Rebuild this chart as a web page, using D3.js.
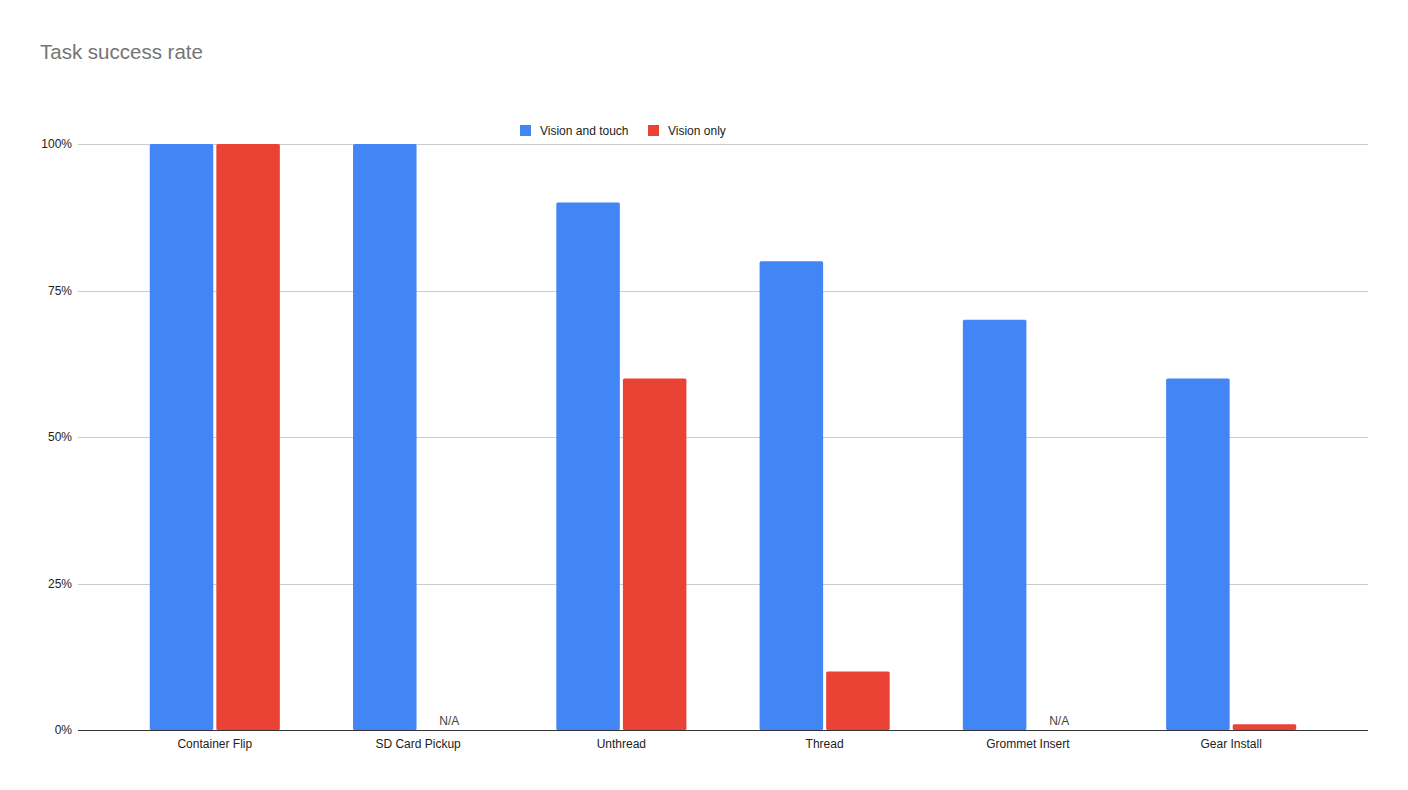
<!DOCTYPE html>
<html>
<head>
<meta charset="utf-8">
<script src="https://cdn.jsdelivr.net/npm/d3@7"></script>
<style>
  html, body { margin: 0; padding: 0; background: #fff; }
  svg { display: block; font-family: "Liberation Sans", Arial, sans-serif; }
</style>
</head>
<body>
<svg id="chart" width="1408" height="790"></svg>
<script>
const categories = ["Container Flip", "SD Card Pickup", "Unthread", "Thread", "Grommet Insert", "Gear Install"];
const seriesNames = ["Vision and touch", "Vision only"];
const visionAndTouch = [100, 100, 90, 80, 70, 60];
const visionOnly = [100, null, 60, 10, null, 1];
const yTicks = [0, 25, 50, 75, 100];
const colors = ["#4285F4", "#EA4335"];
const titleText = "Task success rate";

(function () {
const svg = d3.select("#chart");
const plotLeft = 78, plotRight = 1368, plotTop = 144, plotBottom = 730;

const x = d3.scaleBand().domain(categories).range([plotLeft, plotRight]).paddingInner(0.36).paddingOuter(0.353);
const xs = d3.scaleBand().domain(seriesNames).range([0, x.bandwidth()]).paddingInner(0.046);
const y = d3.scaleLinear().domain([0, 100]).range([plotBottom, plotTop]);

svg.append("rect").attr("width", 1408).attr("height", 790).attr("fill", "#fff");

svg.append("text").attr("x", 40).attr("y", 59).attr("font-size", 20.5).attr("fill", "#757575").text(titleText);

// gridlines
svg.append("g").selectAll("line").data(yTicks.filter(d => d !== 0)).join("line")
  .attr("x1", plotLeft).attr("x2", plotRight)
  .attr("y1", d => Math.round(y(d)) + 0.5).attr("y2", d => Math.round(y(d)) + 0.5)
  .attr("stroke", "#cccccc").attr("stroke-width", 1);

// y labels
svg.append("g").selectAll("text").data(yTicks).join("text")
  .attr("x", 72).attr("y", d => y(d) + 4)
  .attr("text-anchor", "end").attr("font-size", 12).attr("fill", "#222")
  .text(d => d + "%");

const series = [visionAndTouch, visionOnly];
const data = [];
categories.forEach((c, i) => {
  seriesNames.forEach((s, j) => {
    data.push({ cat: c, ser: s, j, v: series[j][i] });
  });
});

svg.append("g").selectAll("rect").data(data.filter(d => d.v != null)).join("rect")
  .attr("x", d => x(d.cat) + xs(d.ser))
  .attr("y", d => y(d.v))
  .attr("width", xs.bandwidth())
  .attr("height", d => y(0) - y(d.v))
  .attr("rx", 1.5)
  .attr("fill", d => colors[d.j]);

// N/A labels
svg.append("g").selectAll("text").data(data.filter(d => d.v == null)).join("text")
  .attr("x", d => x(d.cat) + xs(d.ser) + xs.bandwidth() / 2 - 2)
  .attr("y", plotBottom - 5)
  .attr("text-anchor", "middle").attr("font-size", 12).attr("fill", "#444")
  .text("N/A");

// baseline
svg.append("line").attr("x1", plotLeft).attr("x2", plotRight)
  .attr("y1", plotBottom + 0.5).attr("y2", plotBottom + 0.5)
  .attr("stroke", "#333").attr("stroke-width", 1);

// x labels
svg.append("g").selectAll("text").data(categories).join("text")
  .attr("x", d => x(d) + x.bandwidth() / 2).attr("y", 748)
  .attr("text-anchor", "middle").attr("font-size", 12).attr("fill", "#222")
  .text(d => d);

// legend
const legendPos = [520, 648];
const lg = svg.append("g").selectAll("g").data(seriesNames).join("g")
  .attr("transform", (d, i) => `translate(${legendPos[i]},125)`);
lg.append("rect").attr("width", 11).attr("height", 11).attr("fill", (d, i) => colors[i]);
lg.append("text").attr("x", 20).attr("y", 10).attr("font-size", 12).attr("fill", "#222").text(d => d);
})();
</script>
</body>
</html>
